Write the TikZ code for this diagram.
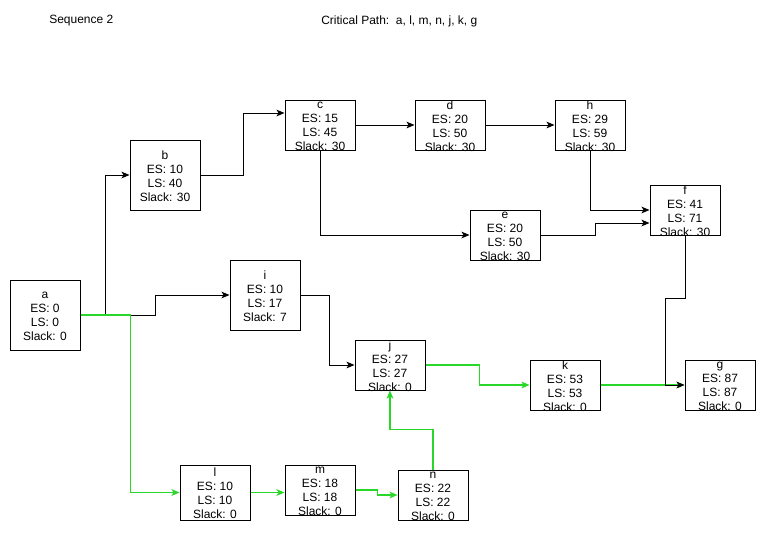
\documentclass[tikz,border=0pt]{standalone}
\usepackage{fontspec}
\setmainfont{Liberation Sans}
\usetikzlibrary{arrows.meta,calc}
\definecolor{critgreen}{RGB}{40,215,40}
\tikzset{
  taskbox/.style={draw, line width=0.75pt, inner sep=0pt, minimum width=52.5pt, minimum height=37.5pt},
  tasktext/.style={align=center, inner sep=0pt, font=\fontsize{9}{10.5}\selectfont},
  arr/.style={line width=0.75pt, -{Stealth[length=6pt,width=5pt,inset=1.5pt]}},
  crit/.style={arr, line width=0.9pt, draw=critgreen}
}
\begin{document}
\begin{tikzpicture}[x=0.75pt, y=-0.75pt]
\useasboundingbox (0,0) rectangle (766,533);

% titles
\node [tasktext, anchor=west] (title) at (49,21) {Sequence 2};
\node [tasktext, anchor=west] (critpath) at (321,21) {Critical Path:\ \ a, l, m, n, j, k, g};

% tasks, top branch
\node [taskbox, minimum height=52.5pt] (a) at (45,315) {};
\node [tasktext] (a-t) at (45,316) {a\\ES: 0\\LS: 0\\Slack: 0};
\node [taskbox, minimum height=52.5pt] (b) at (165,175) {};
\node [tasktext] (b-t) at (165,176) {b\\ES: 10\\LS: 40\\Slack: 30};
\node [taskbox] (c) at (320,125) {};
\node [tasktext] (c-t) at (320,126) {c\\ES: 15\\LS: 45\\Slack: 30};
\node [taskbox] (d) at (450,125) {};
\node [tasktext] (d-t) at (450,126) {d\\ES: 20\\LS: 50\\Slack: 30};
\node [taskbox] (h) at (590,125) {};
\node [tasktext] (h-t) at (590,126) {h\\ES: 29\\LS: 59\\Slack: 30};
\node [taskbox] (e) at (505,235) {};
\node [tasktext] (e-t) at (505,236) {e\\ES: 20\\LS: 50\\Slack: 30};
\node [taskbox] (f) at (685,210) {};
\node [tasktext] (f-t) at (685,211) {f\\ES: 41\\LS: 71\\Slack: 30};

% tasks, lower branch
\node [taskbox, minimum height=52.5pt] (i) at (265,295) {};
\node [tasktext] (i-t) at (265,296) {i\\ES: 10\\LS: 17\\Slack: 7};
\node [taskbox] (j) at (390,365) {};
\node [tasktext] (j-t) at (390,366) {j\\ES: 27\\LS: 27\\Slack: 0};
\node [taskbox] (k) at (565,385) {};
\node [tasktext] (k-t) at (565,386) {k\\ES: 53\\LS: 53\\Slack: 0};
\node [taskbox] (g) at (720,385) {};
\node [tasktext] (g-t) at (720,386) {g\\ES: 87\\LS: 87\\Slack: 0};
\node [taskbox, minimum height=41.25pt] (l) at (215,492.5) {};
\node [tasktext] (l-t) at (215,493.5) {l\\ES: 10\\LS: 10\\Slack: 0};
\node [taskbox] (m) at (320,490) {};
\node [tasktext] (m-t) at (320,491) {m\\ES: 18\\LS: 18\\Slack: 0};
\node [taskbox] (n) at (433,495) {};
\node [tasktext] (n-t) at (433,496) {n\\ES: 22\\LS: 22\\Slack: 0};

% links
\draw [arr] (a.east) -- ++(25,0) |- (b.west);
\draw [arr] (a.east) -- ++(75,0) |- (i.west);
\draw [arr] (b.east) -- ++(43,0) |- ($(c.west)+(0,-12)$);
\draw [arr] (c.east) -- (d.west);
\draw [arr] (d.east) -- (h.west);
\draw [arr] (c.south) |- (e.west);
\draw [arr] (h.south) |- (f.west);
\draw [arr] (e.east) -- ++(55,0) |- ($(f.west)+(0,13)$);
\draw [arr] (i.east) -- ++(29,0) |- (j.west);

% critical links
\draw [crit] (a.east) -- ++(50,0) |- (l.west);
\draw [crit] (l.east) -- (l.east -| m.west);
\draw [crit] (m.east) -- ++(22,0) |- (n.west);
\draw [crit] (n.north) -- ++(0,-40) -| (j.south);
\draw [crit] (j.east) -- ++(54,0) |- (k.west);
\draw [crit] (k.east) -- (g.west);
\draw [arr] (f.south) -- ++(0,63) -- ++(-20,0) |- (g.west);

\end{tikzpicture}
\end{document}
